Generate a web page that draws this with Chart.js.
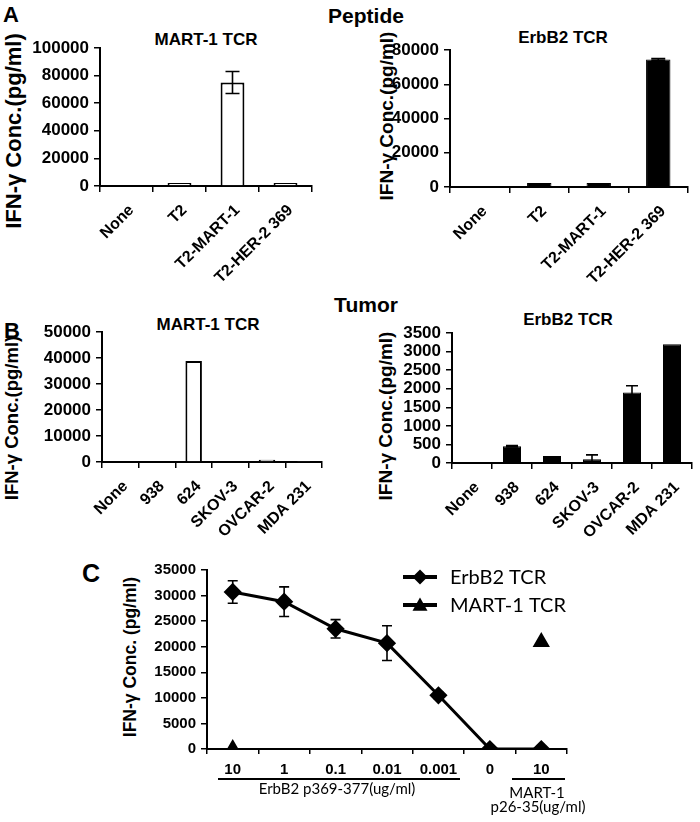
<!DOCTYPE html>
<html><head><meta charset="utf-8">
<script src="https://cdn.jsdelivr.net/npm/chart.js@4/dist/chart.umd.min.js"></script>
<style>
html,body{margin:0;padding:0;background:#fff;}
body{width:700px;height:822px;position:relative;overflow:hidden;font-family:"Liberation Sans",Arial,sans-serif;}
canvas{position:absolute;}
.t{position:absolute;font-weight:bold;color:#000;white-space:nowrap;text-align:center;}
.yt{position:absolute;font-weight:bold;color:#000;white-space:nowrap;text-align:center;width:300px;height:26px;line-height:26px;transform:rotate(-90deg);}
.n{position:absolute;color:#000;white-space:nowrap;text-align:center;font-family:Lato,"Open Sans",sans-serif;font-size:15px;line-height:18px;}
.u{position:absolute;background:#000;height:2px;}
</style></head><body>

<div class="t" style="left:3px;top:2px;font-size:22px;line-height:26px;text-align:left;">A</div>
<div class="t" style="left:266px;width:200px;top:4px;font-size:21px;line-height:24px;">Peptide</div>
<div class="t" style="left:106px;width:200px;top:30px;font-size:17px;line-height:20px;">MART-1 TCR</div>
<div class="t" style="left:463px;width:200px;top:28px;font-size:17px;line-height:20px;">ErbB2 TCR</div>

<div class="t" style="left:4px;top:318px;font-size:22px;line-height:26px;text-align:left;">B</div>
<div class="t" style="left:266px;width:200px;top:293px;font-size:21px;line-height:24px;">Tumor</div>
<div class="t" style="left:108px;width:200px;top:315px;font-size:17px;line-height:20px;">MART-1 TCR</div>
<div class="t" style="left:468px;width:200px;top:310px;font-size:17px;line-height:20px;">ErbB2 TCR</div>

<div class="t" style="left:82px;top:558px;font-size:25px;line-height:30px;text-align:left;">C</div>

<div class="yt" id="ytA1" style="left:-136px;top:118px;font-size:22px;"></div>
<div class="yt" id="ytA2" style="left:237px;top:103px;font-size:19px;"></div>
<div class="yt" id="ytB1" style="left:-138px;top:405px;font-size:18.5px;"></div>
<div class="yt" id="ytB2" style="left:236px;top:403px;font-size:19px;"></div>
<div class="yt" id="ytC" style="left:-20px;top:644px;font-size:17.5px;"></div>

<canvas id="a1" width="350" height="290" style="left:0;top:25px;"></canvas>
<canvas id="a2" width="323" height="290" style="left:377px;top:25px;"></canvas>
<canvas id="b1" width="350" height="260" style="left:0;top:300px;"></canvas>
<canvas id="b2" width="325" height="260" style="left:375px;top:300px;"></canvas>
<canvas id="c" width="582" height="277" style="left:118px;top:545px;"></canvas>

<div class="u" style="left:218px;width:242px;top:778px;"></div>
<div class="u" style="left:512px;width:53px;top:778px;"></div>
<div class="n" style="left:237px;width:200px;top:779px;">ErbB2 p369-377(ug/ml)</div>
<div class="n" style="left:487px;width:100px;top:783px;">MART-1</div>
<div class="n" style="left:478px;width:120px;top:797px;">p26-35(ug/ml)</div>

<script>
// ---------- data ----------
const peptideCategories = ['None', 'T2', 'T2-MART-1', 'T2-HER-2 369'];
const tumorCategories = ['None', '938', '624', 'SKOV-3', 'OVCAR-2', 'MDA 231'];

const peptideMart1Values = [0, 2200, 75000, 2200];
const peptideMart1Errors = [0, 0, 8000, 0];
const peptideErbb2Values = [0, 2300, 2300, 74500];
const peptideErbb2Errors = [0, 0, 0, 500];

const tumorMart1Values = [0, 0, 38800, 0, 900, 400];
const tumorMart1Errors = [0, 0, 0, 0, 0, 0];
const tumorErbb2Values = [0, 450, 190, 100, 1900, 3200];
const tumorErbb2Errors = [0, 20, 0, 120, 180, 0];

const doseLabels = ['10', '1', '0.1', '0.01', '0.001', '0', '10'];
const seriesNames = ['ErbB2 TCR', 'MART-1 TCR'];
const erbb2TcrValues = [30700, 28800, 23500, 20700, 10500, 0, 0];
const erbb2TcrErrors = [2200, 2900, 1800, 3400, 600, 0, 0];
const mart1TcrValues = [0, null, null, null, null, null, 20900];

const yTitleBars = 'IFN-γ Conc.(pg/ml)';
const yTitleLine = 'IFN-γ Conc. (pg/ml)';

['ytA1', 'ytA2', 'ytB1', 'ytB2'].forEach(id => { document.getElementById(id).textContent = yTitleBars; });
document.getElementById('ytC').textContent = yTitleLine;

// ---------- helpers ----------
const BOLD = '"Liberation Sans", Arial, sans-serif';

const errorBars = {
  id: 'errorBars',
  afterDatasetsDraw(chart) {
    const ctx = chart.ctx, ys = chart.scales.y;
    chart.data.datasets.forEach((ds, di) => {
      if (!ds.errors) return;
      const meta = chart.getDatasetMeta(di);
      meta.data.forEach((el, i) => {
        const v = ds.data[i], e = ds.errors[i];
        if (v == null || !e) return;
        const x = el.x, yt = ys.getPixelForValue(v + e), yb = ys.getPixelForValue(Math.max(0, v - e));
        const cap = ds.capWidth || 5;
        ctx.save();
        ctx.strokeStyle = '#000';
        ctx.lineWidth = 1.6;
        ctx.beginPath();
        ctx.moveTo(x, yt); ctx.lineTo(x, yb);
        ctx.moveTo(x - cap, yt); ctx.lineTo(x + cap, yt);
        if (v - e > 0) { ctx.moveTo(x - cap, yb); ctx.lineTo(x + cap, yb); }
        ctx.stroke();
        ctx.restore();
      });
    });
  }
};

function barChart(id, labels, values, errors, o) {
  return new Chart(document.getElementById(id), {
    type: 'bar',
    data: {
      labels: labels,
      datasets: [{
        data: values, errors: errors, capWidth: o.cap,
        backgroundColor: o.fill, borderColor: '#000', borderWidth: o.border,
        barPercentage: o.bp, categoryPercentage: 1
      }]
    },
    options: {
      responsive: false, animation: false, devicePixelRatio: 1,
      layout: { padding: o.pad },
      plugins: { legend: { display: false }, tooltip: { enabled: false }, title: { display: false } },
      scales: {
        x: {
          offset: true,
          grid: { offset: true, drawOnChartArea: false, drawTicks: true, tickLength: 6, color: '#000', lineWidth: 1.5 },
          border: { display: true, color: '#000', width: 2 },
          ticks: { color: '#000', font: { family: BOLD, weight: 'bold', size: 16 }, minRotation: 45, maxRotation: 45,
                   autoSkip: false, padding: 9, labelOffset: 5 },
          afterFit(s) { s.height = o.xh; }
        },
        y: {
          min: 0, max: o.max,
          ticks: { stepSize: o.step, autoSkip: false, color: '#000', font: { family: BOLD, weight: 'bold', size: 17 }, padding: 5, callback: v => String(v) },
          grid: { drawOnChartArea: false, drawTicks: true, tickLength: 6, color: '#000', lineWidth: 1.5 },
          border: { display: true, color: '#000', width: 2 },
          afterFit(s) { s.width = o.yw; }
        }
      }
    },
    plugins: [errorBars]
  });
}

barChart('a1', peptideCategories, peptideMart1Values, peptideMart1Errors,
  { fill: '#fff', border: 2, bp: 0.45, cap: 7, max: 100000, step: 20000, yw: 100, xh: 129,
    pad: { left: 0, top: 23, right: 38, bottom: 0 } });
barChart('a2', peptideCategories, peptideErbb2Values, peptideErbb2Errors,
  { fill: '#000', border: 1, bp: 0.41, cap: 7, max: 80000, step: 20000, yw: 73, xh: 128,
    pad: { left: 0, top: 25, right: 12, bottom: 0 } });
barChart('b1', tumorCategories, tumorMart1Values, tumorMart1Errors,
  { fill: '#fff', border: 2, bp: 0.45, cap: 6, max: 50000, step: 10000, yw: 102, xh: 98,
    pad: { left: 0, top: 32, right: 28, bottom: 0 } });
barChart('b2', tumorCategories, tumorErbb2Values, tumorErbb2Errors,
  { fill: '#000', border: 1, bp: 0.45, cap: 6, max: 3500, step: 500, yw: 77, xh: 97,
    pad: { left: 0, top: 33, right: 8, bottom: 0 } });

// legend drawn as line + marker + text, from dataset styles
function drawMarker(ctx, style, x, y, r) {
  ctx.beginPath();
  if (style === 'rectRot') {
    ctx.moveTo(x, y - r); ctx.lineTo(x + r, y); ctx.lineTo(x, y + r); ctx.lineTo(x - r, y);
  } else {
    ctx.moveTo(x, y - r); ctx.lineTo(x + r, y + r * 0.75); ctx.lineTo(x - r, y + r * 0.75);
  }
  ctx.closePath();
  ctx.fill();
}
const lineLegend = {
  id: 'lineLegend',
  afterDraw(chart, args, o) {
    const ctx = chart.ctx;
    chart.data.datasets.forEach((ds, i) => {
      const y = o.y0 + i * o.dy;
      ctx.save();
      ctx.strokeStyle = '#000'; ctx.fillStyle = '#000'; ctx.lineWidth = 4;
      ctx.beginPath(); ctx.moveTo(o.x0, y); ctx.lineTo(o.x1, y); ctx.stroke();
      drawMarker(ctx, ds.pointStyle, (o.x0 + o.x1) / 2, y, 7.5);
      ctx.font = '20px Lato, "Open Sans", sans-serif';
      ctx.textBaseline = 'middle'; ctx.textAlign = 'left';
      ctx.fillText(ds.label, o.tx, y + 1);
      ctx.restore();
    });
  }
};

new Chart(document.getElementById('c'), {
  type: 'line',
  data: {
    labels: doseLabels,
    datasets: [
      { label: seriesNames[0], data: erbb2TcrValues, errors: erbb2TcrErrors, capWidth: 5,
        borderColor: '#000', backgroundColor: '#000', borderWidth: 3, pointStyle: 'rectRot',
        pointRadius: 7, pointBackgroundColor: '#000', pointBorderColor: '#000', spanGaps: false, tension: 0 },
      { label: seriesNames[1], data: mart1TcrValues,
        borderColor: '#000', backgroundColor: '#000', borderWidth: 3, pointStyle: 'triangle',
        pointRadius: 7, pointBackgroundColor: '#000', pointBorderColor: '#000', spanGaps: false, tension: 0 }
    ]
  },
  options: {
    responsive: false, animation: false, devicePixelRatio: 1,
    layout: { padding: { left: 0, top: 25, right: 133, bottom: 33 } },
    plugins: { legend: { display: false }, tooltip: { enabled: false },
      lineLegend: { x0: 285, x1: 319, y0: 32, dy: 28, tx: 332 } },
    scales: {
      x: {
        offset: true,
        grid: { offset: true, drawOnChartArea: false, drawTicks: true, tickLength: 5, color: '#000', lineWidth: 1.5 },
        border: { display: true, color: '#000', width: 2 },
        ticks: { color: '#000', font: { family: BOLD, weight: 'bold', size: 15 }, maxRotation: 0, autoSkip: false, padding: 7 },
        afterFit(s) { s.height = 40; }
      },
      y: {
        min: 0, max: 35000,
        ticks: { stepSize: 5000, autoSkip: false, color: '#000', font: { family: BOLD, weight: 'bold', size: 15 }, padding: 5, callback: v => String(v) },
        grid: { drawOnChartArea: false, drawTicks: true, tickLength: 6, color: '#000', lineWidth: 1.5 },
        border: { display: true, color: '#000', width: 2 },
        afterFit(s) { s.width = 89; }
      }
    }
  },
  plugins: [errorBars, lineLegend]
});
</script>
</body></html>
